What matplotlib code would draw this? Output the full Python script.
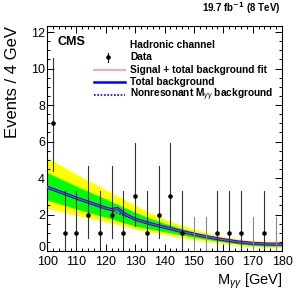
import numpy as np
import matplotlib
matplotlib.use('Agg')
import matplotlib.pyplot as plt
from matplotlib.ticker import MultipleLocator

plt.rcParams['font.family'] = ['Liberation Sans', 'DejaVu Sans']
plt.rcParams['mathtext.fontset'] = 'custom'
plt.rcParams['mathtext.rm'] = 'Liberation Sans'
plt.rcParams['mathtext.it'] = 'Liberation Sans:italic'

# data points (4 GeV bins)
bin_centers = [102, 106, 110, 114, 118, 122, 126, 130, 134, 138,
               142, 146, 150, 154, 158, 162, 166, 170, 174, 178]
counts = [7, 1, 1, 2, 1, 2, 1, 3, 1, 2, 3, 1, 0, 0, 1, 1, 1, 0, 1, 0]
err_lo = [2.6, 0.83, 0.83, 1.29, 0.83, 1.29, 0.83, 1.63, 0.83, 1.29,
          1.63, 0.83, 0, 0, 0.83, 0.83, 0.83, 0, 0.83, 0]
err_hi = [3.6, 2.3, 2.3, 2.64, 2.3, 2.64, 2.3, 2.92, 2.3, 2.64,
          2.92, 2.3, 1.84, 1.84, 2.3, 2.3, 2.3, 1.84, 2.3, 1.84]

# background fit and uncertainty bands
mass = [100, 105, 110, 115, 120, 125, 130, 135, 140, 145,
        150, 155, 160, 165, 170, 175, 180]
nonres = [3.5, 3.2, 2.9, 2.62, 2.35, 2.02, 1.74, 1.5, 1.3, 1.1,
          0.92, 0.76, 0.62, 0.5, 0.42, 0.38, 0.37]
yellow_hi = [5.1, 4.65, 4.2, 3.77, 3.35, 2.92, 2.5, 2.1, 1.75, 1.46,
             1.2, 0.98, 0.8, 0.67, 0.58, 0.55, 0.55]
yellow_lo = [2.35, 2.15, 1.95, 1.77, 1.6, 1.4, 1.2, 1.04, 0.9, 0.75,
             0.62, 0.5, 0.4, 0.3, 0.22, 0.2, 0.2]
green_hi = [4.3, 3.92, 3.55, 3.2, 2.85, 2.48, 2.12, 1.8, 1.52, 1.27,
            1.05, 0.86, 0.7, 0.58, 0.5, 0.47, 0.47]
green_lo = [2.8, 2.55, 2.3, 2.07, 1.85, 1.6, 1.37, 1.2, 1.05, 0.9,
            0.75, 0.62, 0.5, 0.39, 0.3, 0.27, 0.27]

# total background incl. resonant Higgs bump
mass_tot = [100, 105, 110, 115, 120, 122, 123, 124, 125, 126, 127, 128,
            130, 135, 140, 145, 150, 155, 160, 165, 170, 175, 180]
total_bkg = [3.5, 3.2, 2.9, 2.62, 2.35, 2.27, 2.3, 2.33, 2.2, 2.08, 1.97, 1.9,
             1.74, 1.5, 1.3, 1.1, 0.92, 0.76, 0.62, 0.5, 0.42, 0.38, 0.37]

fig = plt.figure(figsize=(3.0, 2.91), dpi=100)
ax = fig.add_axes([0.157, 0.1375, 0.783, 0.773])

ax.fill_between(mass, yellow_lo, yellow_hi, color='#ffff00', lw=0, zorder=1)
ax.fill_between(mass, green_lo, green_hi, color='#00ff00', lw=0, zorder=2)
ax.plot(mass, nonres, color='#0000ff', lw=1.2, ls=(0, (1, 1)), zorder=3)
ax.plot(mass_tot, total_bkg, color='#0000ff', lw=2.2, zorder=4)
ax.plot(mass_tot, total_bkg, color='#a040b0', lw=1.0, zorder=5)

for x, n, lo, hi in zip(bin_centers, counts, err_lo, err_hi):
    c = '#888888' if n == 0 else '#333333'
    ax.plot([x, x], [n - lo, n + hi], color=c, lw=0.8, zorder=6)
nz = [i for i, n in enumerate(counts) if n > 0]
ax.plot([bin_centers[i] for i in nz], [counts[i] for i in nz], 'o',
        color='black', ms=2.3, zorder=7)

ax.set_xlim(100, 180)
ax.set_ylim(0, 12.33)
ax.xaxis.set_major_locator(MultipleLocator(10))
ax.xaxis.set_minor_locator(MultipleLocator(2))
ax.yaxis.set_major_locator(MultipleLocator(2))
ax.yaxis.set_minor_locator(MultipleLocator(0.5))
ax.tick_params(which='both', direction='in', top=True, right=True,
               labelsize=9, width=0.7)
ax.tick_params(axis='y', pad=1.5)
ax.tick_params(axis='x', pad=3.5)
ax.tick_params(which='major', length=5)
ax.tick_params(which='minor', length=2.5)
for s in ax.spines.values():
    s.set_linewidth(0.8)

ax.set_ylabel('Events / 4 GeV', fontsize=12, ha='right', y=1.0)
ax.yaxis.set_label_coords(-0.115, 1.0)
ax.set_xlabel(r'M$_{\gamma\gamma}$ [GeV]', fontsize=10.5, ha='right', x=1.0)
ax.xaxis.set_label_coords(1.0, -0.09)

ax.text(0.045, 0.955, 'CMS', transform=ax.transAxes, fontsize=9,
        fontweight='bold', va='top')
fig.text(0.935, 0.945, r'19.7 fb$^{\mathbf{-1}}$ (8 TeV)', fontsize=7,
         fontweight='bold', ha='right', va='bottom')

# legend
tx = 0.355
ys = [0.915, 0.862, 0.805, 0.75, 0.695]
labels = ['Hadronic channel', 'Data', 'Signal + total background fit',
          'Total background', r'Nonresonant M$_{\gamma\gamma}$ background']
for y, lab in zip(ys, labels):
    ax.text(tx, y, lab, transform=ax.transAxes, fontsize=7.3,
            fontweight='bold', va='center')
ax.plot([0.26], [ys[1]], 'o', color='black', ms=2.3, transform=ax.transAxes)
ax.plot([0.26, 0.26], [ys[1] - 0.02, ys[1] + 0.02], color='black', lw=0.8,
        transform=ax.transAxes)
ax.plot([0.2, 0.33], [ys[2]] * 2, color='#ffaaaa', lw=1.5, transform=ax.transAxes)
ax.plot([0.2, 0.33], [ys[3]] * 2, color='#0000ff', lw=1.8, transform=ax.transAxes)
ax.plot([0.2, 0.33], [ys[4]] * 2, color='#0000ff', lw=1.2, ls=(0, (1, 1)),
        transform=ax.transAxes)

# lift the "0" label a little so it sits just above the "100"
fig.canvas.draw()
for t in ax.yaxis.get_major_ticks():
    if abs(t.get_loc()) < 1e-9:
        t.label1.set_va('baseline')

fig.savefig('out.png', dpi=100)
